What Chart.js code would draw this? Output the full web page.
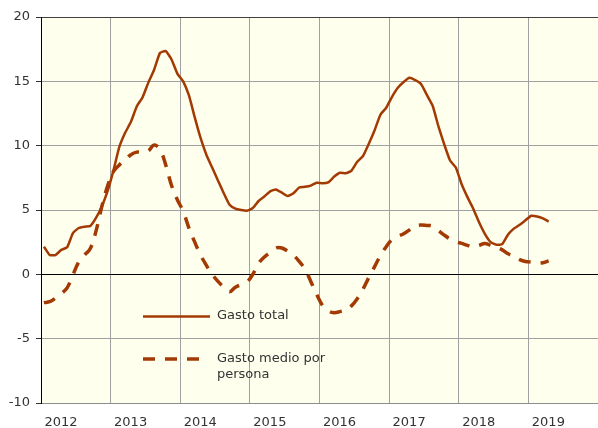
<!DOCTYPE html>
<html>
<head>
<meta charset="utf-8">
<script src="https://cdn.jsdelivr.net/npm/chart.js@4.4.1/dist/chart.umd.min.js"></script>
<style>
html,body{margin:0;padding:0;background:#fff;}
canvas{display:block;}
</style>
</head>
<body>
<canvas id="c" width="598" height="428"></canvas>
<script>
// Monthly series, January 2012 to April 2019
const startYear = 2012;
const years = ['2012','2013','2014','2015','2016','2017','2018','2019'];
const yTicks = [-10, -5, 0, 5, 10, 15, 20];
const seriesNames = ['Gasto total', 'Gasto medio por persona'];

const gastoTotal = [
  2.15, 1.5, 1.5, 1.9, 2.1, 3.2, 3.6, 3.7, 3.75, 4.4, 5.3, 6.5,
  8.1, 9.9, 11.0, 11.85, 13.05, 13.75, 14.9, 15.9, 17.2, 17.35, 16.7, 15.6,
  15.0, 13.9, 12.2, 10.6, 9.3, 8.3, 7.3, 6.3, 5.4, 5.1, 5.0, 4.95,
  5.15, 5.7, 6.05, 6.45, 6.6, 6.35, 6.08, 6.3, 6.75, 6.8, 6.9, 7.12,
  7.08, 7.15, 7.58, 7.9, 7.85, 8.05, 8.75, 9.2, 10.15, 11.2, 12.4, 12.95,
  13.8, 14.5, 14.95, 15.28, 15.1, 14.8, 13.95, 13.1, 11.5, 10.1, 8.85, 8.3,
  7.0, 6.0, 5.1, 4.05, 3.15, 2.5, 2.3, 2.35, 3.1, 3.55, 3.85, 4.2,
  4.55, 4.5, 4.35, 4.1
];
const gastoMedio = [
  -2.2, -2.13, -1.85, -1.5, -1.05, -0.05, 0.95, 1.5, 2.0, 3.4, 5.3, 6.9,
  8.0, 8.5, 8.9, 9.3, 9.5, 9.5, 9.6, 10.05, 9.7, 8.5, 6.9, 5.8,
  4.9, 3.6, 2.5, 1.5, 0.7, 0.0, -0.55, -1.0, -1.35, -1.0, -0.8, -0.6,
  0.0, 0.85, 1.35, 1.7, 2.05, 2.05, 1.8, 1.5, 1.0, 0.4, -0.55, -1.55,
  -2.4, -2.85, -2.98, -2.9, -2.75, -2.45, -1.9, -1.15, -0.25, 0.6, 1.45, 2.15,
  2.7, 2.95, 3.15, 3.45, 3.75, 3.83, 3.8, 3.75, 3.4, 3.05, 2.75, 2.55,
  2.4, 2.25, 2.15, 2.25, 2.4, 2.25, 2.1, 1.9, 1.6, 1.4, 1.15, 1.0,
  0.95, 0.87, 0.9, 1.05
];

const COLOR = '#A33A04';
const monthX = i => startYear + (i + 0.5) / 12;
const toPoints = arr => arr.map((v, i) => ({ x: monthX(i), y: v }));

const bgPlugin = {
  id: 'bg',
  beforeDraw(chart) {
    const a = chart.chartArea, ctx = chart.ctx;
    ctx.save();
    ctx.fillStyle = '#FFFFEE';
    ctx.fillRect(a.left, a.top, a.right - a.left, a.bottom - a.top);
    ctx.restore();
  }
};

const legendPlugin = {
  id: 'customLegend',
  afterDatasetsDraw(chart) {
    const ctx = chart.ctx;
    ctx.save();
    ctx.strokeStyle = COLOR;
    ctx.lineCap = 'butt';
    ctx.lineWidth = 2.5;
    ctx.beginPath(); ctx.moveTo(143, 316.5); ctx.lineTo(210, 316.5); ctx.stroke();
    ctx.lineWidth = 3.5;
    ctx.setLineDash([12, 10]);
    ctx.beginPath(); ctx.moveTo(143, 359); ctx.lineTo(201, 359); ctx.stroke();
    ctx.setLineDash([]);
    ctx.fillStyle = '#333';
    ctx.font = '13px "DejaVu Sans", Verdana, sans-serif';
    ctx.textBaseline = 'middle';
    ctx.textAlign = 'left';
    ctx.fillText(seriesNames[0], 217, 316);
    ctx.fillText('Gasto medio por', 217, 359);
    ctx.fillText('persona', 217, 375);
    ctx.restore();
  }
};

const xTickValues = [];
for (let k = 0; k <= years.length; k++) {
  xTickValues.push(startYear + k);
  if (k < years.length) xTickValues.push(startYear + k + 0.287);
}

new Chart(document.getElementById('c'), {
  type: 'line',
  data: {
    datasets: [
      {
        label: seriesNames[0],
        data: toPoints(gastoTotal),
        borderColor: COLOR,
        borderWidth: 2.5,
        pointRadius: 0,
        tension: 0.15,
        fill: false
      },
      {
        label: seriesNames[1],
        data: toPoints(gastoMedio),
        borderColor: COLOR,
        borderWidth: 3.5,
        borderDash: [12, 10],
        pointRadius: 0,
        tension: 0.4,
        fill: false
      }
    ]
  },
  options: {
    responsive: false,
    animation: false,
    devicePixelRatio: 1,
    layout: { padding: { top: 17, right: 0, left: 0, bottom: 0 } },
    plugins: { legend: { display: false }, tooltip: { enabled: false } },
    scales: {
      x: {
        type: 'linear',
        min: 2012,
        max: 2020,
        afterBuildTicks(scale) { scale.ticks = xTickValues.map(v => ({ value: v })); },
        afterFit(scale) { scale.height = 25; scale.paddingRight = 0; scale.paddingLeft = 0; },
        grid: {
          drawTicks: true,
          tickLength: 12,
          tickColor: 'rgba(0,0,0,0)',
          lineWidth: 1,
          color: ctx => (ctx.tick && Number.isInteger(ctx.tick.value) && ctx.tick.value > 2012 && ctx.tick.value < 2020) ? '#A0A0A0' : 'rgba(0,0,0,0)'
        },
        border: { display: true, color: '#8C8C8C', width: 1 },
        ticks: {
          autoSkip: false,
          maxRotation: 0,
          minRotation: 0,
          padding: 0,
          color: '#333',
          font: { family: '"DejaVu Sans", Verdana, sans-serif', size: 13 },
          callback: v => Number.isInteger(v) ? '' : String(Math.floor(v))
        }
      },
      y: {
        min: -10,
        max: 20,
        afterBuildTicks(scale) { scale.ticks = yTicks.map(v => ({ value: v })); },
        afterFit(scale) { scale.width = 41; },
        grid: {
          drawTicks: true,
          tickLength: 5,
          tickColor: '#333',
          lineWidth: 1,
          color: ctx => {
            const v = ctx.tick ? ctx.tick.value : null;
            if (v === 0) return '#000';
            if (v === 20) return '#404040';
            return '#A0A0A0';
          }
        },
        border: { display: true, color: '#000', width: 1 },
        ticks: {
          padding: 6,
          color: '#333',
          font: { family: '"DejaVu Sans", Verdana, sans-serif', size: 13 }
        }
      }
    }
  },
  plugins: [bgPlugin, legendPlugin]
});
</script>
</body>
</html>
